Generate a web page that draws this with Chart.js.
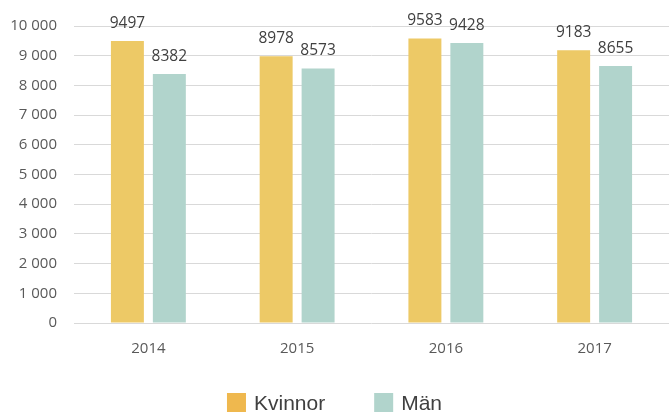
<!DOCTYPE html>
<html>
<head>
<meta charset="utf-8">
<script src="https://cdn.jsdelivr.net/npm/chart.js@4"></script>
<style>
  html, body { margin: 0; padding: 0; background: #fff; }
  #wrap { width: 669px; height: 412px; position: relative; }
</style>
</head>
<body>
<div id="wrap"><canvas id="chart"></canvas></div>
<script>
// data
const YEARS = ["2014", "2015", "2016", "2017"];
const KVINNOR = [9497, 8978, 9583, 9183];
const MAN = [8382, 8573, 9428, 8655];
const SERIES_LABELS = ["Kvinnor", "Män"];

const BAR_COLORS = ["#EDC966", "#B1D4CC"];
const LEGEND_COLORS = ["#EFB84E", "#B1D4CC"];
const FONT = "'Open Sans', sans-serif";

function fmtThousands(v) {
  return String(v).replace(/\B(?=(\d{3})+(?!\d))/g, " ");
}

// value labels above each bar
const valueLabels = {
  id: "valueLabels",
  afterDatasetsDraw(chart) {
    const ctx = chart.ctx;
    ctx.save();
    ctx.font = "15.5px " + FONT;
    ctx.fillStyle = "#404040";
    ctx.textAlign = "center";
    ctx.textBaseline = "middle";
    chart.data.datasets.forEach((ds, i) => {
      chart.getDatasetMeta(i).data.forEach((bar, j) => {
        ctx.fillText(String(ds.data[j]), bar.x, bar.y - 17.5);
      });
    });
    ctx.restore();
  },
};

// bottom legend, centred under the canvas
const bottomLegend = {
  id: "bottomLegend",
  afterDraw(chart) {
    const ctx = chart.ctx;
    const box = 19, gapText = 8, gapItem = 49;
    ctx.save();
    ctx.font = "300 21px 'Liberation Sans', sans-serif";
    const widths = chart.data.datasets.map(ds => box + gapText + ctx.measureText(ds.label).width);
    const total = widths.reduce((a, b) => a + b, 0) + gapItem * (widths.length - 1);
    let x = (chart.width - total) / 2;
    const top = 393;
    chart.data.datasets.forEach((ds, i) => {
      ctx.fillStyle = LEGEND_COLORS[i];
      ctx.fillRect(x, top, box, box);
      ctx.fillStyle = "#404040";
      ctx.textAlign = "left";
      ctx.textBaseline = "alphabetic";
      ctx.fillText(ds.label, x + box + gapText, top + 17);
      x += widths[i] + gapItem;
    });
    ctx.restore();
  },
};

new Chart(document.getElementById("chart"), {
  type: "bar",
  data: {
    labels: YEARS,
    datasets: [
      { label: SERIES_LABELS[0], data: KVINNOR, backgroundColor: BAR_COLORS[0] },
      { label: SERIES_LABELS[1], data: MAN, backgroundColor: BAR_COLORS[1] },
    ],
  },
  options: {
    responsive: true,
    maintainAspectRatio: false,
    animation: false,
    categoryPercentage: 0.564,
    barPercentage: 0.786,
    layout: { padding: { top: 17, right: 0, bottom: 39, left: 0 } },
    plugins: {
      legend: { display: false },
      tooltip: { enabled: false },
    },
    scales: {
      x: {
        grid: { display: false },
        border: { display: false },
        ticks: { color: "#595959", font: { family: FONT, size: 15 }, padding: 9 },
        afterFit: (s) => { s.height = 50; },
      },
      y: {
        min: 0,
        max: 10000,
        grid: { color: "#D9D9D9", lineWidth: 1, drawTicks: false },
        border: { display: false },
        ticks: {
          stepSize: 1000,
          color: "#595959",
          font: { family: FONT, size: 15 },
          padding: 17,
          callback: (v) => fmtThousands(v),
        },
        afterFit: (s) => { s.width = 74; },
      },
    },
  },
  plugins: [valueLabels, bottomLegend],
});
</script>
</body>
</html>
